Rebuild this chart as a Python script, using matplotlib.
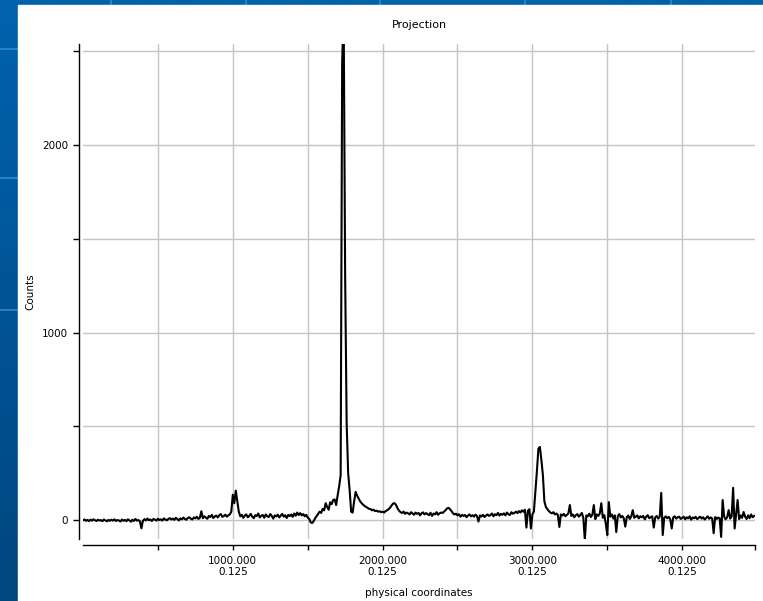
import matplotlib
matplotlib.use("Agg")
import matplotlib.pyplot as plt
import numpy as np
from matplotlib.patches import Rectangle
from matplotlib.colors import LinearSegmentedColormap

# projection counts, one value every 10 physical units starting at 0
counts_a = [  # 0 .. 990
    -2, 3, -4, 1, -6, 2, -3, 4, -1, -5,
    2, -3, 0, -6, 3, -2, -7, 1, -4, 2,
    -3, 4, -5, 0, -2, -8, 3, -4, 1, -6,
    4, -2, -9, 2, -5, 6, -3, 0, -7, -44,
    -4, 5, -2, 8, -1, 3, -5, 6, 2, -3,
    7, 0, 4, -3, 9, 2, -1, 6, 10, 3,
    8, 1, 12, 5, -2, 9, 4, 13, 6, 2,
    11, 15, 7, 3, 14, 9, 18, 6, 12, 47,
    10, 20, 13, 7, 22, 16, 28, 11, 19, 24,
    14, 26, 32, 17, 21, 29, 18, 25, 30, 45,
]
counts_b = [  # 1000 .. 1990
    135, 90, 157, 100, 45, 20, 28, 12, 24, 30,
    15, 22, 33, 18, 10, 26, 21, 35, 14, 23,
    27, 12, 30, 20, 16, 32, 22, 8, 25, 19,
    29, 14, 24, 33, 18, 26, 11, 28, 21, 30,
    17, 35, 23, 40, 27, 37, 25, 32, 20, 28,
    14, 6, -12, -16, -5, 10, 22, 34, 45, 38,
    60, 52, 90, 70, 55, 95, 85, 107, 110, 80,
    133, 180, 240, 2440, 2720, 1300, 520, 250, 160, 45,
    40, 100, 150, 130, 115, 100, 90, 82, 75, 70,
    65, 60, 58, 52, 55, 48, 50, 45, 47, 42,
]
counts_c = [  # 2000 .. 2990
    45, 40, 48, 52, 58, 66, 78, 88, 90, 80,
    62, 50, 42, 38, 45, 33, 40, 36, 30, 42,
    35, 28, 40, 33, 38, 25, 36, 41, 30, 37,
    32, 26, 39, 22, 35, 30, 42, 28, 36, 40,
    38, 45, 52, 62, 65, 58, 48, 36, 30, 34,
    25, 31, 18, 28, 22, 27, 15, 24, 30, 20,
    26, 18, 29, 22, -8, 25, 19, 28, 16, 24,
    30, 22, 27, 35, 20, 31, 26, 38, 24, 33,
    28, 36, 25, 40, 31, 27, 42, 34, 38, 45,
    37, 48, 40, 52, 44, 55, -40, 50, 58, -45,
]
counts_d = [  # 3000 .. 3990
    30, 45, 150, 260, 380, 390, 320, 240, 100, 70,
    58, 48, 40, 36, 42, 30, 35, 27, -37, 30,
    24, 33, 20, 28, 35, 80, 22, 30, 15, 26,
    32, 18, 27, 38, 12, -107, 25, 20, 34, 16,
    28, 80, 5, 30, 22, 35, 90, 12, 26, -20,
    -80, 96, 18, 30, 8, 25, -64, 20, 32, 14,
    22, 10, -35, 15, 24, 6, 20, 53, 12, 18,
    25, 9, 20, 15, 22, 4, 18, 26, 10, 16,
    20, -40, 14, 22, 8, 18, 145, -80, 12, 20,
    10, 17, 5, -45, 14, 20, 8, 15, 18, 6,
]
counts_e = [  # 4000 .. 4480
    12, 18, 4, 15, 9, 20, 2, 14, 10, 17,
    5, 12, 18, 8, 15, 3, 11, 20, 7, 14,
    9, -70, 16, 6, 13, 10, -90, 107, 18, 4,
    15, 53, 8, 20, 172, -45, 30, 107, 5, 25,
    12, 43, 18, 6, 25, 10, 30, 15, 22,
]

x_major = [1000, 2000, 3000, 4000]
x_labels = ["1000.000\n0.125", "2000.000\n0.125", "3000.000\n0.125", "4000.000\n0.125"]
x_minor = [500, 1500, 2500, 3500]
y_major = [0, 1000, 2000]
y_minor = [500, 1500, 2500]

counts = np.array(counts_a + counts_b + counts_c + counts_d + counts_e)
coords = np.arange(len(counts)) * 10
x_end = 4486

W, H = 763, 601
fig = plt.figure(figsize=(W / 100, H / 100), dpi=100)

# slide backdrop: blue frame with a white panel
bg = fig.add_axes([0, 0, 1, 1])
slide = LinearSegmentedColormap.from_list("slide", ["#0063ae", "#00467f"])
bg.imshow(np.linspace(0, 1, 256).reshape(-1, 1), cmap=slide,
          extent=[0, 1, 0, 1], aspect="auto", origin="upper")
for yy in [49, 178, 310]:
    bg.plot([0, 18 / W], [1 - yy / H] * 2, color="#2b8ad8", lw=1.2)
for xx in [111, 246, 380, 525, 671]:
    bg.plot([xx / W] * 2, [1, 1 - 5 / H], color="#2b8ad8", lw=1.2)
bg.add_patch(Rectangle((18 / W, 0), 1, 1 - 5 / H, color="white", zorder=3))
bg.set_xlim(0, 1)
bg.set_ylim(0, 1)
bg.axis("off")

ax = fig.add_axes([83 / W, 1 - 539 / H, 672 / W, 495 / H])
ax.set_facecolor("white")

for v in x_major + x_minor:
    ax.axvline(v, color="#c4c4c4", lw=1.0, zorder=0)
for v in y_major + y_minor:
    ax.axhline(v, color="#c4c4c4", lw=1.0, zorder=0)

ax.plot(coords, counts, color="black", lw=1.5, zorder=2)

ax.set_xlim(0, x_end)
ax.set_ylim(-101, 2539)

ax.set_xticks(x_major)
ax.set_xticklabels(x_labels, linespacing=1.75)
ax.set_xticks(x_minor + [x_end], minor=True)
ax.set_yticks(y_major)
ax.set_yticks(y_minor, minor=True)

for side in ["top", "right"]:
    ax.spines[side].set_visible(False)
ax.spines["left"].set_position(("outward", 2.9))
ax.spines["bottom"].set_position(("outward", 4.3))
for side in ["left", "bottom"]:
    ax.spines[side].set_linewidth(1.0)

ax.tick_params(axis="both", which="both", direction="out", length=4.3,
               width=1.0, colors="black", labelsize=7.5)
ax.tick_params(axis="x", which="both", length=3.6, pad=4)
ax.tick_params(axis="y", pad=3.6)

fig.text(419 / W, 1 - 25 / H, "Projection", ha="center", va="center", fontsize=8)
fig.text(30 / W, 1 - 292 / H, "Counts", rotation=90, ha="center", va="center", fontsize=7.5)
fig.text(419 / W, 1 - 593 / H, "physical coordinates", ha="center", va="center", fontsize=7.5)

fig.savefig("out.png", dpi=100)
